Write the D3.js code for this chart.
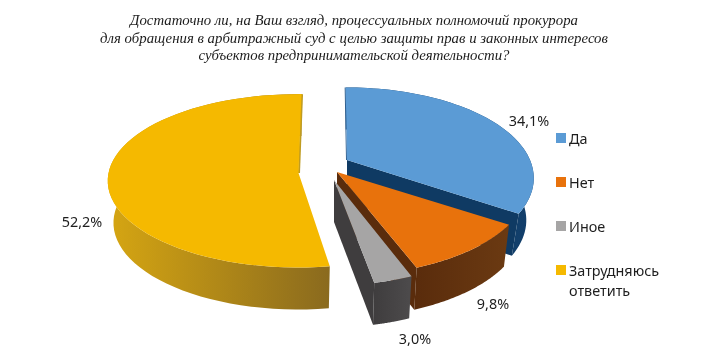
<!DOCTYPE html>
<html lang="ru">
<head>
<meta charset="UTF-8">
<title>Pie</title>
<script src="https://d3js.org/d3.v7.min.js"></script>
<style>
  html, body { margin: 0; background: #fff; }
  svg { display: block; filter: blur(0.35px); }
  .title { font-family: "Liberation Serif", serif; font-style: italic; font-size: 14.8px; fill: #1c1c1c; text-anchor: middle; }
  .label, .legend { font-family: "Noto Sans", sans-serif; font-size: 14.4px; fill: #1e1e1e; }
</style>
</head>
<body>
<svg width="705" height="361"></svg>
<script>
const titleLines = [
  "Достаточно ли, на Ваш взгляд, процессуальных полномочий прокурора",
  "для обращения в арбитражный суд с целью защиты прав и законных интересов",
  "субъектов предпринимательской деятельности?"
];
const categories = ["Да", "Нет", "Иное", "Затрудняюсь ответить"];
const values = [34.1, 9.8, 3.0, 52.2];
const valueLabels = ["34,1%", "9,8%", "3,0%", "52,2%"];
const topColors = ["#5b9bd5", "#e8720c", "#a6a5a5", "#f5b900"];
const wallColors = [["#0f3a63", "#123f6b"], ["#5a2c0c", "#6b3a12"], ["#3f3d3e", "#4d4b4c"], ["#8a6a1e", "#d6a612"]];

const svg = d3.select("svg");
const depth = 42;

// each slice is exploded on its own, so it has its own centre and perspective
const layout = [
  { cx: 347, cy: 160, R: 183, ry: 87, k: 0.2, shrink: 0.96, rot: -0.5, lx: 529, ly: 120 },
  { cx: 337, cy: 172, R: 190, ry: 90, k: 0.134, shrink: 0.97, rot: -1, lx: 493, ly: 303 },
  { cx: 334, cy: 180, R: 181, ry: 91, k: 0.134, shrink: 0.97, rot: -1.5, lx: 415, ly: 338 },
  { cx: 298.5, cy: 173, R: 190, ry: 86, k: 0.09, shrink: 0.97, rot: 1, lx: 82, ly: 221 }
];

function project(c, a, r, z) {
  const u = Math.sin(a) * r, v = Math.cos(a) * r;
  const s = 1 / (1 + c.k * v);
  const f = z ? c.shrink : 1;
  return [c.cx + u * c.R * s * f, c.cy - v * c.ry * s + z * depth];
}

const pie = d3.pie().sort(null).value(d => d);
const arcs = pie(values);
const line = d3.line();
const defs = svg.append("defs");

const toRad = d => d * Math.PI / 180;
const g = svg.append("g");

arcs.forEach((d, i) => {
  const c = layout[i];
  const a0 = d.startAngle + toRad(c.rot), a1 = d.endAngle + toRad(c.rot);
  const angles = d3.range(0, 61).map(t => a0 + (a1 - a0) * t / 60);
  const rimTop = angles.map(a => project(c, a, 1, 0));
  const rimBottom = angles.map(a => project(c, a, 1, 1));

  defs.append("linearGradient")
    .attr("id", "wall" + i)
    .attr("gradientUnits", "userSpaceOnUse")
    .attr("x1", d3.min(rimTop, p => p[0])).attr("x2", d3.max(rimTop, p => p[0]))
    .attr("y1", 0).attr("y2", 0)
    .selectAll("stop")
    .data(i === 3 ? wallColors[i].slice().reverse() : wallColors[i])
    .enter().append("stop")
    .attr("offset", (s, j) => j * 100 + "%")
    .attr("stop-color", s => s);

  // outer wall
  g.append("path")
    .attr("d", line(rimTop.concat(rimBottom.slice().reverse())) + "Z")
    .attr("fill", "url(#wall" + i + ")");

  // cut wall on the clockwise end, not visible on the yellow slice
  if (i < 3) {
    g.append("path")
      .attr("d", line([project(c, a1, 0, 0), project(c, a1, 1, 0), project(c, a1, 1, 1), project(c, a1, 0, 1)]) + "Z")
      .attr("fill", wallColors[i][0]);
  }

  // thin dark edge along the 12 o'clock cut
  if (i === 0 || i === 3) {
    const a = i === 0 ? a0 : a1;
    g.append("path")
      .attr("d", line([project(c, a, 0, 0), project(c, a, 1, 0)]))
      .attr("stroke", i === 0 ? "#2f5f8f" : "#c09c20")
      .attr("stroke-width", i === 0 ? 1 : 2)
      .attr("transform", "translate(" + (i === 0 ? -0.5 : 0.5) + ",0)");
  }

  // top surface
  g.append("path")
    .attr("d", line([project(c, a0, 0, 0)].concat(rimTop)) + "Z")
    .attr("fill", topColors[i]);

  svg.append("text")
    .attr("class", "label")
    .attr("x", c.lx).attr("y", c.ly)
    .attr("text-anchor", "middle").attr("dominant-baseline", "central")
    .text(valueLabels[i]);
});

svg.selectAll(".title")
  .data(titleLines)
  .enter().append("text")
  .attr("class", "title")
  .attr("x", 354)
  .attr("y", (d, i) => 25 + i * 17.5)
  .text(d => d);

const legendY = d3.scalePoint().domain(categories).range([138, 270]);
const legend = svg.selectAll(".legend")
  .data(categories)
  .enter().append("g")
  .attr("class", "legend")
  .attr("transform", d => "translate(556," + legendY(d) + ")");

legend.append("rect")
  .attr("y", -5).attr("width", 10).attr("height", 10)
  .attr("fill", (d, i) => d3.color(topColors[i]));

legend.append("text")
  .attr("x", 13)
  .attr("dominant-baseline", "central")
  .selectAll("tspan")
  .data(d => d === "Затрудняюсь ответить" ? d.split(" ") : [d])
  .enter().append("tspan")
  .attr("x", 13)
  .attr("dy", (d, i) => i ? 20 : 0)
  .text(d => d);
</script>
</body>
</html>
